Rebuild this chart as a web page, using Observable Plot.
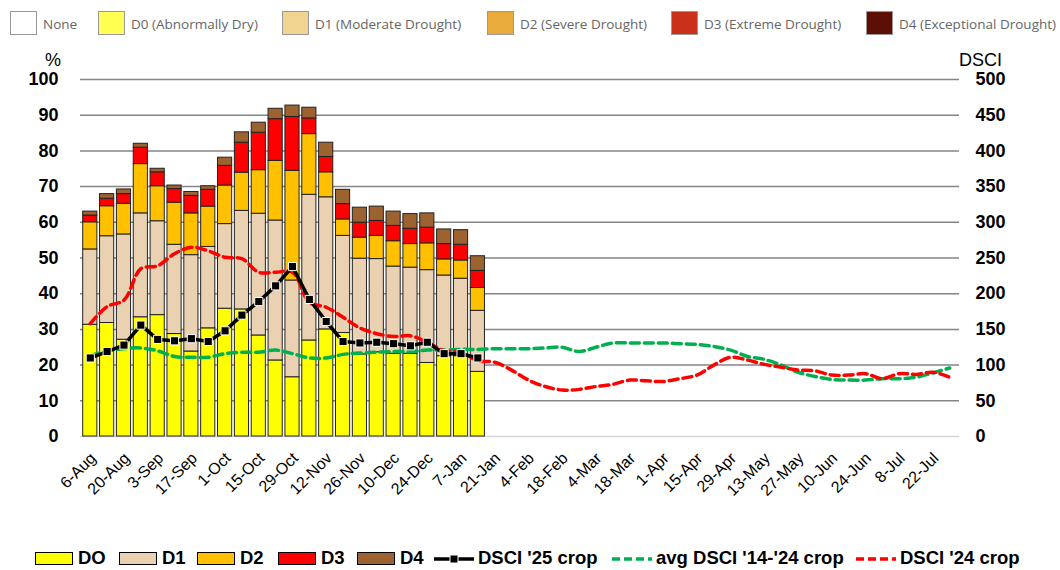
<!DOCTYPE html>
<html>
<head>
<meta charset="utf-8">
<script src="https://cdn.jsdelivr.net/npm/d3@7"></script>
<script src="https://cdn.jsdelivr.net/npm/@observablehq/plot@0.6"></script>
<style>
  html, body { margin: 0; padding: 0; background: #fff; }
  #wrap { position: relative; width: 1060px; height: 570px; overflow: hidden; }
  #toplegend { position: absolute; left: 0; top: 0; width: 1060px; height: 44px; font-family: "Open Sans", sans-serif; font-size: 13.5px; color: #666; }
  #toplegend .sw { position: absolute; top: 11px; width: 27px; height: 24px; border: 1px solid #999; box-sizing: border-box; }
  #toplegend .tx { position: absolute; top: 14px; line-height: 20px; white-space: nowrap; }
  #chart { position: absolute; left: 0; top: 44px; }
  #bottomlegend { position: absolute; left: 0; top: 534px; width: 1060px; height: 36px; font-family: "Liberation Sans", Arial, sans-serif; font-weight: bold; font-size: 18.5px; color: #000; }
  #bottomlegend .sw { position: absolute; top: 18px; width: 38px; height: 13px; border: 1px solid #000; box-sizing: border-box; }
  #bottomlegend .tx { position: absolute; top: 14px; line-height: 20px; white-space: nowrap; }
  #bottomlegend svg { position: absolute; top: 14px; }
  .ax { position: absolute; font-family: "Liberation Sans", Arial, sans-serif; font-size: 18px; line-height: 20px; color: #000; }
</style>
</head>
<body>
<div id="wrap">
  <div id="toplegend"></div>
  <div id="chart"></div>
  <div class="ax" style="left:45px; top:50px;">%</div>
  <div class="ax" style="left:959px; top:50px;">DSCI</div>
  <div id="bottomlegend"></div>
</div>
<script>
// ---------- data ----------
const weeks = ["6-Aug","13-Aug","20-Aug","27-Aug","3-Sep","10-Sep","17-Sep","24-Sep","1-Oct","8-Oct","15-Oct","22-Oct","29-Oct","5-Nov","12-Nov","19-Nov","26-Nov","3-Dec","10-Dec","17-Dec","24-Dec","31-Dec","7-Jan","14-Jan","21-Jan","28-Jan","4-Feb","11-Feb","18-Feb","25-Feb","4-Mar","11-Mar","18-Mar","25-Mar","1-Apr","8-Apr","15-Apr","22-Apr","29-Apr","6-May","13-May","20-May","27-May","3-Jun","10-Jun","17-Jun","24-Jun","1-Jul","8-Jul","15-Jul","22-Jul","29-Jul"];

const categories = ["D0", "D1", "D2", "D3", "D4"];
const d0 = [31.3,31.8,27.1,33.4,34.0,28.7,23.8,30.3,35.8,35.6,28.3,21.3,16.6,26.9,30.0,29.0,23.0,23.6,23.2,23.2,20.6,22.5,22.5,18.1];
const d1 = [21.1,24.3,29.5,29.1,26.3,25.0,27.0,22.8,23.7,27.6,34.1,39.2,27.1,40.8,37.0,27.2,26.8,26.1,24.4,24.1,26.0,22.6,21.7,17.1];
const d2 = [7.6,8.4,8.6,13.8,9.8,11.8,11.7,11.3,10.8,10.7,12.2,16.7,30.7,17.0,7.0,4.6,5.9,6.5,7.1,6.6,7.5,4.5,5.1,6.4];
const d3 = [1.9,2.1,2.7,4.6,3.9,3.8,4.9,4.7,5.5,8.4,10.5,11.7,15.1,4.4,4.3,4.3,4.2,4.2,4.3,4.3,4.4,4.3,4.4,4.8];
const d4 = [1.1,1.3,1.3,1.1,1.0,1.0,1.1,1.0,2.3,2.9,2.8,2.9,3.2,3.0,4.0,4.0,4.2,4.0,4.0,4.1,4.0,4.1,4.1,4.1];

const dsci25 = [110,119,128,156,136,134,137,133,148,170,189,211,238,192,161,133,131,132,130,127,132,116,116,110];
const dsciAvg = [113,120,123,124,120,112,111,111,116,118,118,121,116,110,110,115,117,118,119,119,121,121,122,122,123,123,123,124,125,119,125,131,131,131,131,130,129,126,121,112,108,100,90,84,80,79,79,81,81,83,89,96];
const dsci24 = [158,182,191,235,239,256,265,260,251,249,230,230,230,188,181,167,152,144,140,141,132,120,118,106,104,93,79,70,65,66,70,73,79,78,77,81,86,100,111,107,101,97,93,92,86,86,88,81,88,87,90,83];

const leftTicks = [0,10,20,30,40,50,60,70,80,90,100];
const rightTickLabels = ["0","50","100","150","200","250","300","350","400","450","500"];

const topLegendLabels = ["None", "D0 (Abnormally Dry)", "D1 (Moderate Drought)", "D2 (Severe Drought)", "D3 (Extreme Drought)", "D4 (Exceptional Drought)"];
const topLegendColors = ["#ffffff", "#ffff54", "#f1d490", "#e9ac3c", "#c9311b", "#5d0f03"];
const barColors = ["#ffff00", "#e9d1b2", "#ffc000", "#ff0000", "#9c6331"];
const bottomLegendLabels = ["DO", "D1", "D2", "D3", "D4", "DSCI '25 crop", "avg DSCI '14-'24 crop", "DSCI '24 crop"];

// ---------- tables ----------
const series = [d0, d1, d2, d3, d4];
const bars = [];
categories.forEach((c, ci) => series[ci].forEach((v, i) => bars.push({week: weeks[i], cat: c, value: v})));
const toPct = v => v / 5; // DSCI (0-500) onto the 0-100 axis
const line25 = dsci25.map((v, i) => ({week: weeks[i], y: toPct(v)}));
const lineAvg = dsciAvg.map((v, i) => ({week: weeks[i], y: toPct(v)}));
const line24 = dsci24.map((v, i) => ({week: weeks[i], y: toPct(v)}));

const FONT = "Liberation Sans, Arial, sans-serif";
const chart = Plot.plot({
  width: 1060,
  height: 490,
  marginTop: 35,
  marginBottom: 98,
  marginLeft: 80,
  marginRight: 101,
  style: {background: "transparent", overflow: "visible"},
  x: {domain: weeks, padding: 0.16, axis: null},
  y: {domain: [0, 100], axis: null},
  color: {domain: categories, range: barColors},
  marks: [
    Plot.ruleY(leftTicks.slice(1), {stroke: "#858585", strokeWidth: 1.5}),
    Plot.ruleY([0], {stroke: "#d6d6d6", strokeWidth: 1.5}),
    Plot.barY(bars, {x: "week", y: "value", fill: "cat", order: categories, stroke: "#222", strokeWidth: 1, inset: 0}),
    Plot.line(lineAvg, {x: "week", y: "y", stroke: "#00b050", strokeWidth: 3.5, strokeDasharray: "9,5", curve: "catmull-rom"}),
    Plot.line(line24, {x: "week", y: "y", stroke: "#ff0000", strokeWidth: 3.5, strokeDasharray: "9,5", curve: "catmull-rom"}),
    Plot.line(line25, {x: "week", y: "y", stroke: "#000", strokeWidth: 3.5}),
    Plot.dot(line25, {x: "week", y: "y", symbol: "square", r: 4.6, fill: "#000", stroke: "#fff", strokeWidth: 1}),
    Plot.axisY({anchor: "left", ticks: leftTicks, tickSize: 0, tickPadding: 22, fontSize: 18, fontWeight: "bold", fontFamily: FONT, label: null}),
    Plot.axisY({anchor: "right", ticks: leftTicks, tickFormat: d => rightTickLabels[leftTicks.indexOf(d)], tickSize: 0, tickPadding: 16, fontSize: 18, fontWeight: "bold", fontFamily: FONT, label: null}),
    Plot.axisX({ticks: weeks.filter((d, i) => i % 2 === 0), tickRotate: -45, tickSize: 0, tickPadding: 19, dx: 3, fontSize: 16, fontFamily: FONT, label: null})
  ]
});
chart.style.fontFamily = FONT;
document.getElementById("chart").appendChild(chart);

// ---------- top legend ----------
const topSwX = [10, 98, 282, 487, 671, 866];
const topDiv = document.getElementById("toplegend");
topLegendLabels.forEach((t, i) => {
  const sw = document.createElement("div");
  sw.className = "sw";
  sw.style.left = topSwX[i] + "px";
  sw.style.background = topLegendColors[i];
  topDiv.appendChild(sw);
  const tx = document.createElement("div");
  tx.className = "tx";
  tx.style.left = (topSwX[i] + 33) + "px";
  tx.textContent = t;
  topDiv.appendChild(tx);
});

// ---------- bottom legend ----------
const bottomDiv = document.getElementById("bottomlegend");
const botSwX = [35, 119, 197, 278, 357, 433, 611, 855];
const lineKeys = [{stroke: "#000", dash: null, marker: true}, {stroke: "#00b050", dash: "8,4"}, {stroke: "#ff0000", dash: "8,4"}];
bottomLegendLabels.forEach((t, i) => {
  const x = botSwX[i];
  if (i < 5) {
    const sw = document.createElement("div");
    sw.className = "sw";
    sw.style.left = x + "px";
    sw.style.background = barColors[i];
    bottomDiv.appendChild(sw);
  } else {
    const k = lineKeys[i - 5];
    const ns = "http://www.w3.org/2000/svg";
    const s = document.createElementNS(ns, "svg");
    s.setAttribute("width", 42); s.setAttribute("height", 20);
    s.style.left = x + "px";
    const l = document.createElementNS(ns, "line");
    l.setAttribute("x1", 1); l.setAttribute("x2", 41); l.setAttribute("y1", 11); l.setAttribute("y2", 11);
    l.setAttribute("stroke", k.stroke); l.setAttribute("stroke-width", 3.5);
    if (k.dash) l.setAttribute("stroke-dasharray", k.dash);
    s.appendChild(l);
    if (k.marker) {
      const r = document.createElementNS(ns, "rect");
      r.setAttribute("x", 17); r.setAttribute("y", 7); r.setAttribute("width", 8); r.setAttribute("height", 8);
      r.setAttribute("fill", "#000"); r.setAttribute("stroke", "#fff"); r.setAttribute("stroke-width", 1);
      s.appendChild(r);
    }
    bottomDiv.appendChild(s);
  }
  const tx = document.createElement("div");
  tx.className = "tx";
  tx.style.left = (x + (i < 5 ? 43 : 45)) + "px";
  tx.textContent = t;
  bottomDiv.appendChild(tx);
});
</script>
</body>
</html>
